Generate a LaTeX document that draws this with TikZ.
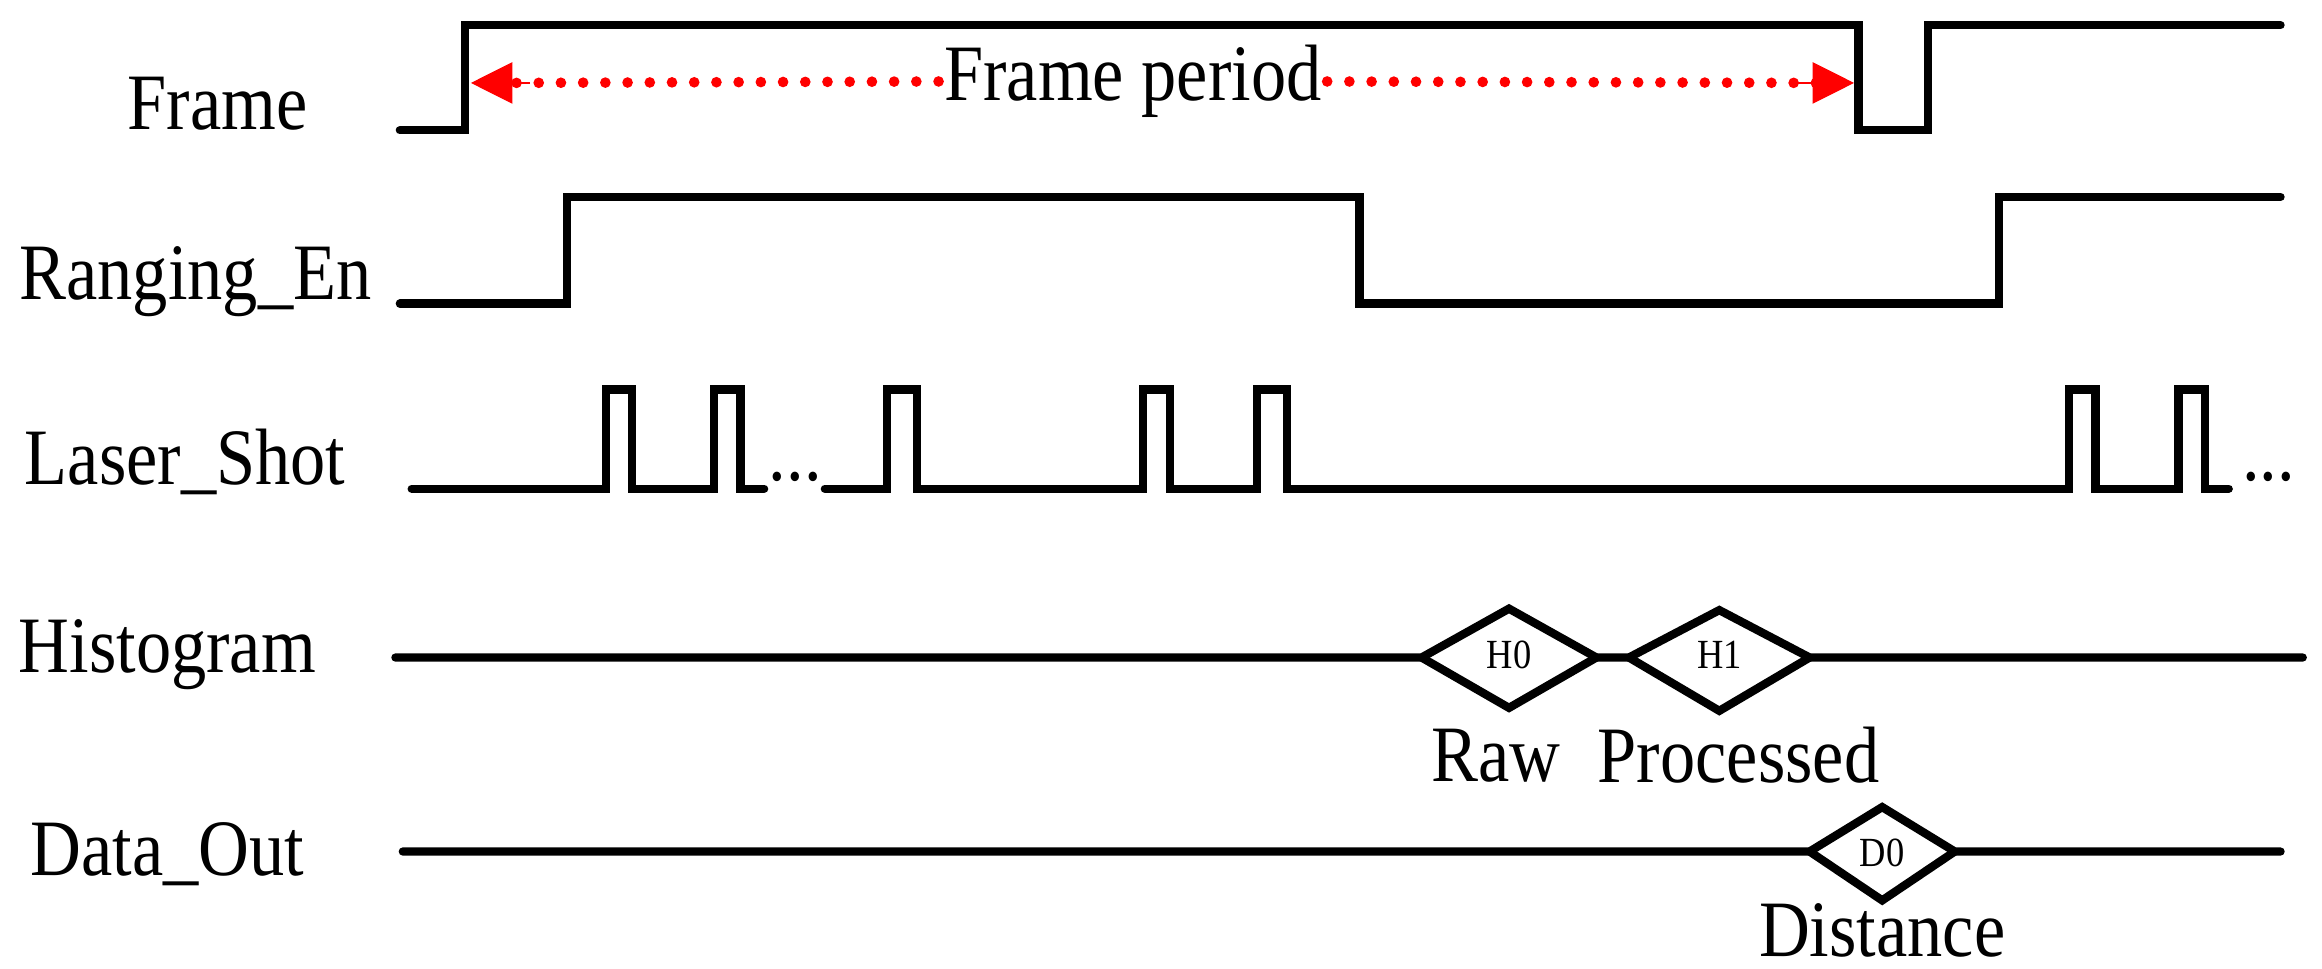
\documentclass[tikz,border=0pt]{standalone}
\usepackage{fontspec}
\setmainfont{Liberation Serif}
\usetikzlibrary{arrows.meta}
\begin{document}
\begin{tikzpicture}[x=0.5pt,y=-0.5pt,
  sig/.style={line width=2.8pt,line join=miter,line cap=round},
  lbl/.style={font=\fontsize{27}{27}\selectfont,inner sep=0pt,xscale=0.88},
  small/.style={font=\fontsize{14}{14}\selectfont,inner sep=0pt,xscale=0.88},
  per/.style={red,line width=3.6pt,dash pattern=on 0pt off 7.5pt,line cap=round}]
\useasboundingbox (0,0) rectangle (1568,654);
% Frame
\draw[sig] (270,88) -- (314,88) -- (314,17) -- (1255,17) -- (1255,88) -- (1302,88) -- (1302,17) -- (1540,17);
\node[lbl] (lframe) at (147,70) {Frame};
\node[lbl,fill=white,inner sep=2pt] (fp) at (765,55) {Frame period};
\coordinate (pa) at (318,56);
\coordinate (pb) at (1252,56);
\draw[per] (fp.west) -- ([xshift=12pt]pa);
\draw[per] (fp.east) -- ([xshift=-12pt]pb);
\draw[red,-{Triangle[length=14pt,width=14pt]}] ([xshift=20pt]pa) -- (pa);
\draw[red,-{Triangle[length=14pt,width=14pt]}] ([xshift=-20pt]pb) -- (pb);
% Ranging
\draw[sig] (270,205) -- (383,205) -- (383,133) -- (918,133) -- (918,205) -- (1350,205) -- (1350,133) -- (1540,133);
\node[lbl] (lrange) at (132,190) {Ranging\_En};
% Laser
\draw[sig] (278,330) -- (409,330) -- (409,263) -- (427,263) -- (427,330) -- (482,330) -- (482,263) -- (500,263) -- (500,330) -- (516,330);
\node[lbl] (d1) at (537,322) {...};
\draw[sig] (557,330) -- (599,330) -- (599,263) -- (619,263) -- (619,330) -- (772,330) -- (772,263) -- (790,263) -- (790,330) -- (849,330) -- (849,263) -- (869,263) -- (869,330) -- (1397,330) -- (1397,263) -- (1415,263) -- (1415,330) -- (1471,330) -- (1471,263) -- (1489,263) -- (1489,330) -- (1505,330);
\node[lbl] (d2) at (1532,322) {...};
\node[lbl] (llaser) at (125,312) {Laser\_Shot};
% Histogram
\draw[sig] (267,444) -- (960,444) -- (1019,411) -- (1078,444) -- (1100,444) -- (1161,412) -- (1222,444) -- (1555,444);
\draw[sig] (960,444) -- (1019,478) -- (1078,444);
\draw[sig] (1100,444) -- (1161,480) -- (1222,444);
\node[small] (h0) at (1019,442) {H0};
\node[small] (h1) at (1161,442) {H1};
\node[lbl] (raw) at (1010,510) {Raw};
\node[lbl] (proc) at (1174,510) {Processed};
\node[lbl] (lhist) at (113,442) {Histogram};
% Data out
\draw[sig] (272,575) -- (1222,575) -- (1271,545) -- (1320,575) -- (1540,575);
\draw[sig] (1222,575) -- (1271,608) -- (1320,575);
\node[small] (d0) at (1271,576) {D0};
\node[lbl] (dist) at (1271,628) {Distance};
\node[lbl] (ldata) at (113,577) {Data\_Out};
\end{tikzpicture}
\end{document}
